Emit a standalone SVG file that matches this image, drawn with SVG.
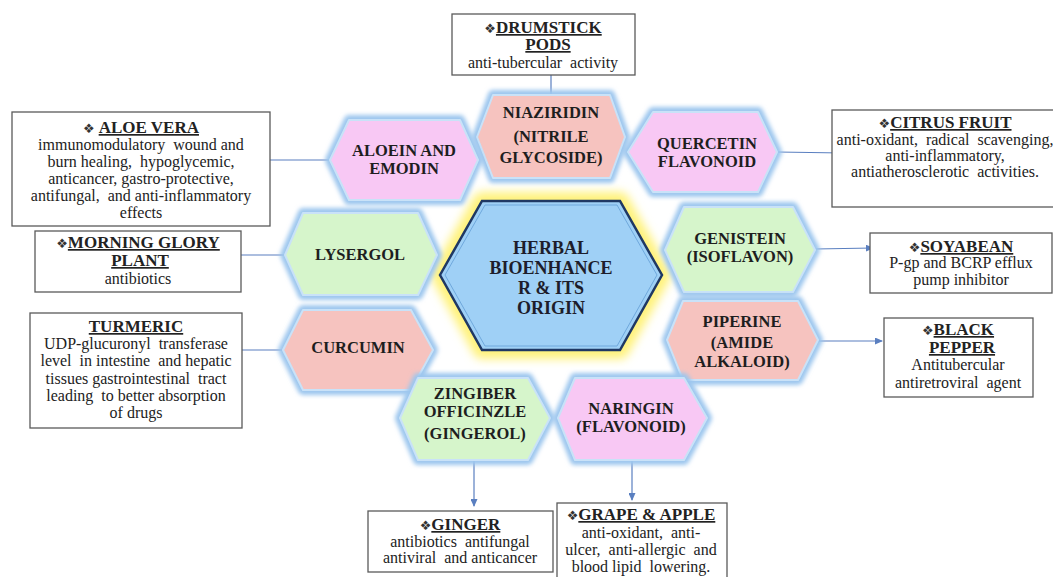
<svg xmlns="http://www.w3.org/2000/svg" width="1053" height="577" viewBox="0 0 1053 577" font-family="'Liberation Serif', 'DejaVu Serif', serif">
<defs>
<style>
.hx{stroke:#c9e2f8;stroke-width:2;stroke-linejoin:round}
.glow{fill:none;stroke:#9cc6ee;stroke-width:10;stroke-linejoin:round;filter:url(#blur)}
.pink{fill:#f8c8f4}
.salmon{fill:#f6c3bf}
.green{fill:#d6f5cb}
.ht{font-weight:bold;font-size:16.5px;fill:#1e1e1e;text-anchor:middle}
.ct{font-weight:bold;font-size:18px;fill:#1d1d2b;text-anchor:middle}
.box{fill:#fff;stroke:#5a5a5a;stroke-width:1.3}
.bt{font-size:16px;fill:#222;text-anchor:middle}
.hd{font-weight:bold;font-size:17px;text-decoration:underline}
.dm{font-family:"DejaVu Sans",sans-serif;font-size:13px;font-weight:normal;fill:#333}
.conn line{stroke:#5a7fc0;stroke-width:1.2;marker-end:url(#arr)}
</style>
<filter id="blur" x="-20%" y="-20%" width="140%" height="140%"><feGaussianBlur stdDeviation="2"/></filter>
<filter id="yblur" x="-30%" y="-30%" width="160%" height="160%"><feGaussianBlur stdDeviation="5"/></filter>
<marker id="arr" viewBox="0 0 8 7" refX="7" refY="3.5" markerWidth="8" markerHeight="7" markerUnits="userSpaceOnUse" orient="auto">
<path d="M0,0 L8,3.5 L0,7 z" fill="#5a7fc0"/>
</marker>
</defs>
<rect width="1053" height="577" fill="#ffffff"/>

<g id="connectors" class="conn">
<line x1="551" y1="95" x2="551" y2="58"/>
<line x1="330" y1="160" x2="260" y2="160"/>
<line x1="777" y1="152" x2="843" y2="153"/>
<line x1="285" y1="255" x2="223" y2="255"/>
<line x1="815" y1="249" x2="873" y2="248"/>
<line x1="283" y1="350" x2="230" y2="350"/>
<line x1="818" y1="341" x2="882" y2="341"/>
<line x1="474" y1="460" x2="474" y2="506"/>
<line x1="632" y1="460" x2="632" y2="500"/>
</g>

<g id="center">
<polygon points="440,275 482,201 620,201 662,275 620,350 482,350" fill="none" stroke="#fff27a" stroke-width="18" stroke-linejoin="round" filter="url(#yblur)"/>
<polygon points="440,275 482,201 620,201 662,275 620,350 482,350" fill="#9fd0f6" stroke="#1f3864" stroke-width="2.5"/>
<polygon points="445,275 485,205 617,205 657,275 617,346 485,346" fill="none" stroke="#6fa8dc" stroke-width="1"/>
<text class="ct" x="551" y="254">HERBAL</text>
<text class="ct" x="551" y="274">BIOENHANCE</text>
<text class="ct" x="551" y="294">R &amp; ITS</text>
<text class="ct" x="551" y="314">ORIGIN</text>
</g>

<g id="niaziridin">
<polygon class="glow" points="477,137 493,95 610,95 625,137 610,178 493,178"/>
<polygon class="hx salmon" points="477,137 493,95 610,95 625,137 610,178 493,178"/>
<text class="ht" x="551" y="118">NIAZIRIDIN</text>
<text class="ht" x="551" y="142">(NITRILE</text>
<text class="ht" x="551" y="163">GLYCOSIDE)</text>
</g>

<g id="aloein">
<polygon class="glow" points="330,160 349,120 460,120 478,160 460,200 349,200"/>
<polygon class="hx pink" points="330,160 349,120 460,120 478,160 460,200 349,200"/>
<text class="ht" x="404" y="156">ALOEIN AND</text>
<text class="ht" x="404" y="174">EMODIN</text>
</g>

<g id="quercetin">
<polygon class="glow" points="628,152 653,112 758,112 777,152 758,192 653,192"/>
<polygon class="hx pink" points="628,152 653,112 758,112 777,152 758,192 653,192"/>
<text class="ht" x="707" y="149">QUERCETIN</text>
<text class="ht" x="707" y="167">FLAVONOID</text>
</g>

<g id="lysergol">
<polygon class="glow" points="285,255 303,213 418,213 437,255 418,295 303,295"/>
<polygon class="hx green" points="285,255 303,213 418,213 437,255 418,295 303,295"/>
<text class="ht" x="360" y="260">LYSERGOL</text>
</g>

<g id="genistein">
<polygon class="glow" points="665,250 684,207 793,207 815,250 793,292 684,292"/>
<polygon class="hx green" points="665,250 684,207 793,207 815,250 793,292 684,292"/>
<text class="ht" x="740" y="244">GENISTEIN</text>
<text class="ht" x="740" y="262">(ISOFLAVON)</text>
</g>

<g id="curcumin">
<polygon class="glow" points="283,350 303,310 411,310 433,350 411,390 303,390"/>
<polygon class="hx salmon" points="283,350 303,310 411,310 433,350 411,390 303,390"/>
<text class="ht" x="358" y="353">CURCUMIN</text>
</g>

<g id="piperine">
<polygon class="glow" points="667,340 683,301 798,301 818,340 798,380 683,380"/>
<polygon class="hx salmon" points="667,340 683,301 798,301 818,340 798,380 683,380"/>
<text class="ht" x="742" y="327">PIPERINE</text>
<text class="ht" x="742" y="348">(AMIDE</text>
<text class="ht" x="742" y="367">ALKALOID)</text>
</g>

<g id="zingiber">
<polygon class="glow" points="400,418 418,378 528,378 550,418 528,460 418,460"/>
<polygon class="hx green" points="400,418 418,378 528,378 550,418 528,460 418,460"/>
<text class="ht" x="475" y="399">ZINGIBER</text>
<text class="ht" x="475" y="417">OFFICINZLE</text>
<text class="ht" x="475" y="439">(GINGEROL)</text>
</g>

<g id="naringin">
<polygon class="glow" points="558,418 575,378 684,378 707,418 684,460 575,460"/>
<polygon class="hx pink" points="558,418 575,378 684,378 707,418 684,460 575,460"/>
<text class="ht" x="631" y="414">NARINGIN</text>
<text class="ht" x="631" y="432">(FLAVONOID)</text>
</g>

<g id="drumstick">
<rect class="box" x="452" y="14" width="183" height="61"/>
<text class="bt" x="543" y="33"><tspan class="dm">❖</tspan><tspan class="hd">DRUMSTICK</tspan></text>
<text class="bt" x="548" y="50"><tspan class="hd">PODS</tspan></text>
<text class="bt" x="543" y="68" xml:space="preserve">anti-tubercular  activity</text>
</g>

<g id="aloevera">
<rect class="box" x="12" y="112" width="258" height="114"/>
<text class="bt" x="141" y="133" xml:space="preserve"><tspan class="dm">❖</tspan> <tspan class="hd">ALOE VERA</tspan></text>
<text class="bt" x="141" y="150" xml:space="preserve">immunomodulatory  wound and</text>
<text class="bt" x="141" y="167" xml:space="preserve">burn healing,  hypoglycemic,</text>
<text class="bt" x="141" y="184">anticancer, gastro-protective,</text>
<text class="bt" x="141" y="201" xml:space="preserve">antifungal,  and anti-inflammatory</text>
<text class="bt" x="141" y="218">effects</text>
</g>

<g id="morningglory">
<rect class="box" x="35" y="231" width="206" height="61"/>
<text class="bt" x="138" y="248"><tspan class="dm">❖</tspan><tspan class="hd">MORNING GLORY</tspan></text>
<text class="bt" x="140" y="266"><tspan class="hd">PLANT</tspan></text>
<text class="bt" x="138" y="284">antibiotics</text>
</g>

<g id="turmeric">
<rect class="box" x="30" y="313" width="212" height="115"/>
<text class="bt" x="136" y="332"><tspan class="hd">TURMERIC</tspan></text>
<text class="bt" x="136" y="349" xml:space="preserve">UDP-glucuronyl  transferase</text>
<text class="bt" x="136" y="366" xml:space="preserve">level  in intestine  and hepatic</text>
<text class="bt" x="136" y="384" xml:space="preserve">tissues gastrointestinal  tract</text>
<text class="bt" x="136" y="401" xml:space="preserve">leading  to better absorption</text>
<text class="bt" x="136" y="418">of drugs</text>
</g>

<g id="citrus">
<rect class="box" x="832" y="110" width="222" height="97"/>
<text class="bt" x="945" y="128"><tspan class="dm">❖</tspan><tspan class="hd">CITRUS FRUIT</tspan></text>
<text class="bt" x="945" y="145" xml:space="preserve">anti-oxidant,  radical  scavenging,</text>
<text class="bt" x="945" y="161">anti-inflammatory,</text>
<text class="bt" x="945" y="177" xml:space="preserve">antiatherosclerotic  activities.</text>
</g>

<g id="soyabean">
<rect class="box" x="870" y="233" width="182" height="60"/>
<text class="bt" x="961" y="252"><tspan class="dm">❖</tspan><tspan class="hd">SOYABEAN</tspan></text>
<text class="bt" x="961" y="268">P-gp and BCRP efflux</text>
<text class="bt" x="961" y="285">pump inhibitor</text>
</g>

<g id="blackpepper">
<rect class="box" x="884" y="318" width="149" height="79"/>
<text class="bt" x="958" y="335"><tspan class="dm">❖</tspan><tspan class="hd">BLACK</tspan></text>
<text class="bt" x="962" y="353"><tspan class="hd">PEPPER</tspan></text>
<text class="bt" x="958" y="370">Antitubercular</text>
<text class="bt" x="958" y="388" xml:space="preserve">antiretroviral  agent</text>
</g>

<g id="ginger">
<rect class="box" x="368" y="511" width="185" height="61"/>
<text class="bt" x="460" y="530"><tspan class="dm">❖</tspan><tspan class="hd">GINGER</tspan></text>
<text class="bt" x="460" y="547" xml:space="preserve">antibiotics  antifungal</text>
<text class="bt" x="460" y="563" xml:space="preserve">antiviral  and anticancer</text>
</g>

<g id="grapeapple">
<rect class="box" x="557" y="503" width="170" height="80"/>
<text class="bt" x="641" y="520"><tspan class="dm">❖</tspan><tspan class="hd">GRAPE &amp; APPLE</tspan></text>
<text class="bt" x="641" y="538" xml:space="preserve">anti-oxidant,  anti-</text>
<text class="bt" x="641" y="555" xml:space="preserve">ulcer,  anti-allergic  and</text>
<text class="bt" x="641" y="572" xml:space="preserve">blood lipid  lowering.</text>
</g>
</svg>
